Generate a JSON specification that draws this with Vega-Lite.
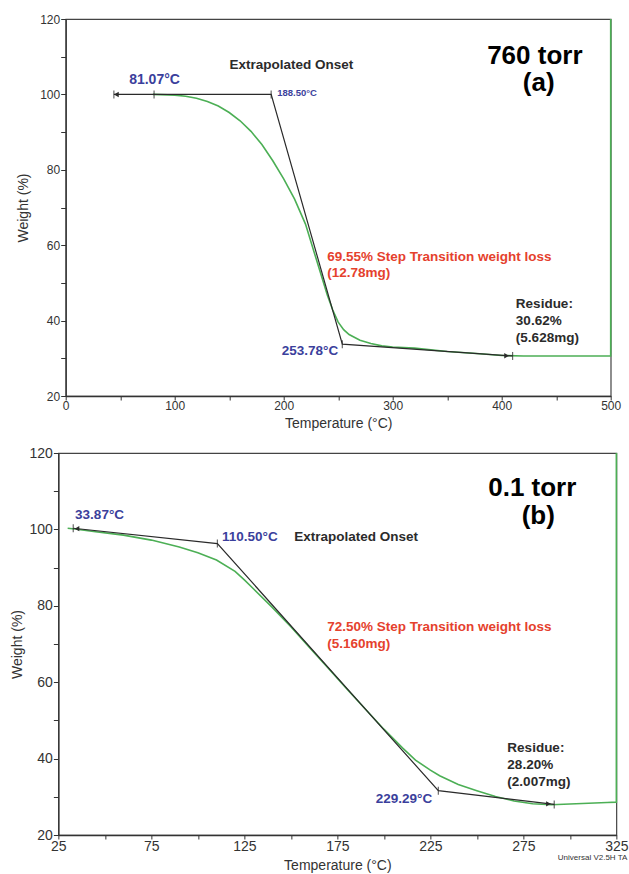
{
  "$schema": "https://vega.github.io/schema/vega-lite/v6.json",
  "padding": {"left": 9, "top": 12, "right": 0, "bottom": 0},
  "background": "white",
  "config": {
    "font": "Liberation Sans",
    "view": {"stroke": "#444", "strokeWidth": 1.2},
    "axis": {
      "grid": false,
      "domainColor": "#333",
      "domainWidth": 1.3,
      "tickColor": "#333",
      "tickWidth": 1,
      "labelColor": "#333",
      "titleColor": "#333",
      "labelFont": "Liberation Sans",
      "titleFont": "Liberation Sans",
      "titleFontWeight": "normal",
      "labelOverlap": false,
      "labelFlush": false
    }
  },
  "vconcat": [
    {
      "width": 545,
      "height": 377,
      "encoding": {
        "x": {
          "field": "T", "type": "quantitative",
          "scale": {"domain": [0, 500], "nice": false, "zero": false},
          "axis": {
            "title": "Temperature (°C)",
            "values": [0, 50, 100, 150, 200, 250, 300, 350, 400, 450, 500],
            "labelExpr": "datum.value % 100 === 0 ? datum.label : ''",
            "tickSize": 4, "labelPadding": 0, "titlePadding": 5,
            "labelFontSize": 12, "titleFontSize": 14
          }
        },
        "y": {
          "field": "W", "type": "quantitative",
          "scale": {"domain": [20, 120], "nice": false, "zero": false},
          "axis": {
            "title": "Weight (%)",
            "values": [20, 30, 40, 50, 60, 70, 80, 90, 100, 110, 120],
            "labelExpr": "datum.value % 20 === 0 ? datum.label : ''",
            "tickSize": 5, "labelPadding": 1, "titlePadding": 9,
            "labelFontSize": 12, "titleFontSize": 14
          }
        }
      },
      "layer": [
        {
          "data": {"values": [
            {"T": 80, "W": 100.0}, {"T": 100, "W": 99.8}, {"T": 110, "W": 99.5},
            {"T": 120, "W": 99.0}, {"T": 130, "W": 98.1}, {"T": 140, "W": 96.9},
            {"T": 150, "W": 95.2}, {"T": 160, "W": 93.0}, {"T": 170, "W": 90.2},
            {"T": 180, "W": 86.7}, {"T": 190, "W": 82.4}, {"T": 200, "W": 77.6},
            {"T": 210, "W": 72.2}, {"T": 220, "W": 65.6}, {"T": 230, "W": 56.2},
            {"T": 240, "W": 46.8}, {"T": 245, "W": 42.8}, {"T": 250, "W": 39.6},
            {"T": 255, "W": 37.6}, {"T": 260, "W": 36.3}, {"T": 270, "W": 34.8},
            {"T": 280, "W": 33.9}, {"T": 290, "W": 33.3}, {"T": 300, "W": 33.0},
            {"T": 320, "W": 32.7}, {"T": 350, "W": 31.8}, {"T": 380, "W": 31.2},
            {"T": 400, "W": 30.75}, {"T": 420, "W": 30.62}, {"T": 500, "W": 30.62},
            {"T": 500, "W": 120}
          ]},
          "mark": {"type": "line", "color": "#4caf55", "strokeWidth": 1.6}
        },
        {
          "data": {"values": [
            {"T": 44.2, "W": 100}, {"T": 188.5, "W": 100},
            {"T": 253.78, "W": 33.75}, {"T": 410, "W": 30.62}
          ]},
          "mark": {"type": "line", "color": "#2a2a2a", "strokeWidth": 1.2}
        },
        {
          "data": {"values": [
            {"T": 44.2, "W": 100}, {"T": 81.07, "W": 100}, {"T": 188.5, "W": 100},
            {"T": 253.78, "W": 33.75}, {"T": 410, "W": 30.62}
          ]},
          "mark": {"type": "tick", "orient": "vertical", "size": 8, "thickness": 1.2, "color": "#2a2a2a"}
        },
        {
          "data": {"values": [
            {"T": 46.5, "W": 100, "dir": "left"},
            {"T": 404.5, "W": 30.65, "dir": "right"}
          ]},
          "mark": {"type": "point", "filled": true, "size": 30, "color": "#2a2a2a", "opacity": 1},
          "encoding": {
            "shape": {"field": "dir", "type": "nominal",
              "scale": {"domain": ["left", "right"], "range": ["triangle-left", "triangle-right"]},
              "legend": null}
          }
        },
        {
          "data": {"values": [{"T": 81.5, "W": 103.7, "label": "81.07°C"}]},
          "mark": {"type": "text", "align": "center", "baseline": "middle", "fontWeight": "bold", "fontSize": 14, "color": "#3b3f9c"},
          "encoding": {"text": {"field": "label"}}
        },
        {
          "data": {"values": [{"T": 194, "W": 100.5, "label": "188.50°C"}]},
          "mark": {"type": "text", "align": "left", "baseline": "middle", "fontWeight": "bold", "fontSize": 9.5, "color": "#3b3f9c"},
          "encoding": {"text": {"field": "label"}}
        },
        {
          "data": {"values": [{"T": 250, "W": 31.9, "label": "253.78°C"}]},
          "mark": {"type": "text", "align": "right", "baseline": "middle", "fontWeight": "bold", "fontSize": 13.5, "color": "#3b3f9c"},
          "encoding": {"text": {"field": "label"}}
        },
        {
          "data": {"values": [
            {"T": 150.2, "W": 107.7, "label": "Extrapolated Onset"},
            {"T": 413, "W": 44.5, "label": "Residue:"},
            {"T": 413, "W": 40.0, "label": "30.62%"},
            {"T": 413, "W": 35.5, "label": "(5.628mg)"}
          ]},
          "mark": {"type": "text", "align": "left", "baseline": "middle", "fontWeight": "bold", "fontSize": 13.5, "color": "#2b2b2b"},
          "encoding": {"text": {"field": "label"}}
        },
        {
          "data": {"values": [
            {"T": 240, "W": 56.9, "label": "69.55% Step Transition weight loss"},
            {"T": 240, "W": 52.6, "label": "(12.78mg)"}
          ]},
          "mark": {"type": "text", "align": "left", "baseline": "middle", "fontWeight": "bold", "fontSize": 13.5, "color": "#e5412d"},
          "encoding": {"text": {"field": "label"}}
        },
        {
          "data": {"values": [
            {"T": 430.4, "W": 110.3, "label": "760 torr"},
            {"T": 434, "W": 103.1, "label": "(a)"}
          ]},
          "mark": {"type": "text", "align": "center", "baseline": "middle", "fontWeight": "bold", "fontSize": 26, "color": "#000"},
          "encoding": {"text": {"field": "label"}}
        }
      ]
    },
    {
      "width": 558,
      "height": 382,
      "encoding": {
        "x": {
          "field": "T", "type": "quantitative",
          "scale": {"domain": [25, 325], "nice": false, "zero": false},
          "axis": {
            "title": "Temperature (°C)",
            "values": [25, 50, 75, 100, 125, 150, 175, 200, 225, 250, 275, 300, 325],
            "labelExpr": "(datum.value - 25) % 50 === 0 ? datum.label : ''",
            "tickSize": 4, "labelPadding": 0, "titlePadding": 5,
            "labelFontSize": 14, "titleFontSize": 14
          }
        },
        "y": {
          "field": "W", "type": "quantitative",
          "scale": {"domain": [20, 120], "nice": false, "zero": false},
          "axis": {
            "title": "Weight (%)",
            "values": [20, 30, 40, 50, 60, 70, 80, 90, 100, 110, 120],
            "labelExpr": "datum.value % 20 === 0 ? datum.label : ''",
            "tickSize": 5, "labelPadding": 1, "titlePadding": 5,
            "labelFontSize": 14, "titleFontSize": 14
          }
        }
      },
      "layer": [
        {
          "data": {"values": [
            {"T": 30, "W": 100.3}, {"T": 33.87, "W": 100.1}, {"T": 45, "W": 99.4},
            {"T": 60, "W": 98.5}, {"T": 75, "W": 97.2}, {"T": 90, "W": 95.4},
            {"T": 100, "W": 93.9}, {"T": 110, "W": 92.0}, {"T": 120, "W": 89.0},
            {"T": 125, "W": 86.8}, {"T": 130, "W": 84.4}, {"T": 140, "W": 79.6},
            {"T": 150, "W": 74.5}, {"T": 160, "W": 69.1}, {"T": 170, "W": 63.7},
            {"T": 180, "W": 58.3}, {"T": 190, "W": 53.0}, {"T": 200, "W": 47.7},
            {"T": 210, "W": 42.8}, {"T": 217, "W": 39.6}, {"T": 225, "W": 37.0},
            {"T": 230, "W": 35.5}, {"T": 240, "W": 33.2}, {"T": 250, "W": 31.6},
            {"T": 260, "W": 30.1}, {"T": 270, "W": 28.9}, {"T": 280, "W": 28.2},
            {"T": 290, "W": 27.9}, {"T": 300, "W": 28.1}, {"T": 310, "W": 28.3},
            {"T": 320, "W": 28.5}, {"T": 325, "W": 28.6}, {"T": 325, "W": 120}
          ]},
          "mark": {"type": "line", "color": "#4caf55", "strokeWidth": 1.6}
        },
        {
          "data": {"values": [
            {"T": 33.0, "W": 100.3}, {"T": 110.5, "W": 96.3},
            {"T": 229.29, "W": 31.6}, {"T": 291.6, "W": 28.0}
          ]},
          "mark": {"type": "line", "color": "#2a2a2a", "strokeWidth": 1.2}
        },
        {
          "data": {"values": [
            {"T": 33.0, "W": 100.3}, {"T": 110.5, "W": 96.3},
            {"T": 229.29, "W": 31.6}, {"T": 291.6, "W": 28.0}
          ]},
          "mark": {"type": "tick", "orient": "vertical", "size": 8, "thickness": 1.2, "color": "#2a2a2a"}
        },
        {
          "data": {"values": [
            {"T": 35.0, "W": 100.2, "dir": "left"},
            {"T": 288.5, "W": 28.15, "dir": "right"}
          ]},
          "mark": {"type": "point", "filled": true, "size": 30, "color": "#2a2a2a", "opacity": 1},
          "encoding": {
            "shape": {"field": "dir", "type": "nominal",
              "scale": {"domain": ["left", "right"], "range": ["triangle-left", "triangle-right"]},
              "legend": null}
          }
        },
        {
          "data": {"values": [
            {"T": 34, "W": 103.8, "label": "33.87°C"},
            {"T": 113, "W": 98.0, "label": "110.50°C"}
          ]},
          "mark": {"type": "text", "align": "left", "baseline": "middle", "fontWeight": "bold", "fontSize": 13.5, "color": "#3b3f9c"},
          "encoding": {"text": {"field": "label"}}
        },
        {
          "data": {"values": [{"T": 226, "W": 29.3, "label": "229.29°C"}]},
          "mark": {"type": "text", "align": "right", "baseline": "middle", "fontWeight": "bold", "fontSize": 13.5, "color": "#3b3f9c"},
          "encoding": {"text": {"field": "label"}}
        },
        {
          "data": {"values": [
            {"T": 151.8, "W": 98.0, "label": "Extrapolated Onset"},
            {"T": 266.4, "W": 42.9, "label": "Residue:"},
            {"T": 266.4, "W": 38.4, "label": "28.20%"},
            {"T": 266.4, "W": 34.0, "label": "(2.007mg)"}
          ]},
          "mark": {"type": "text", "align": "left", "baseline": "middle", "fontWeight": "bold", "fontSize": 13.5, "color": "#2b2b2b"},
          "encoding": {"text": {"field": "label"}}
        },
        {
          "data": {"values": [
            {"T": 169.5, "W": 74.5, "label": "72.50% Step Transition weight loss"},
            {"T": 169.5, "W": 70.1, "label": "(5.160mg)"}
          ]},
          "mark": {"type": "text", "align": "left", "baseline": "middle", "fontWeight": "bold", "fontSize": 13.5, "color": "#e5412d"},
          "encoding": {"text": {"field": "label"}}
        },
        {
          "data": {"values": [
            {"T": 279.8, "W": 110.8, "label": "0.1  torr"},
            {"T": 283, "W": 103.5, "label": "(b)"}
          ]},
          "mark": {"type": "text", "align": "center", "baseline": "middle", "fontWeight": "bold", "fontSize": 26, "color": "#000"},
          "encoding": {"text": {"field": "label"}}
        },
        {
          "data": {"values": [{"T": 330.9, "W": 13.9, "label": "Universal V2.5H TA"}]},
          "mark": {"type": "text", "align": "right", "baseline": "middle", "fontSize": 8, "color": "#333"},
          "encoding": {"text": {"field": "label"}}
        }
      ]
    }
  ],
  "center": true,
  "spacing": 14
}
